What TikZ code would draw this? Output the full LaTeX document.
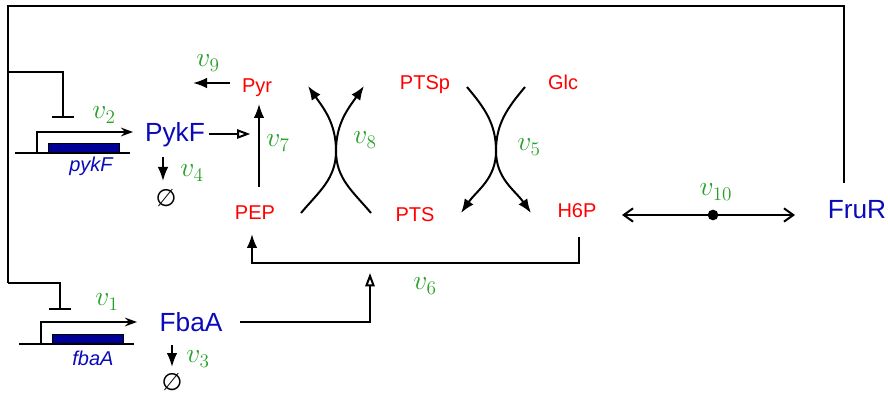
\documentclass[tikz,border=0pt]{standalone}
\usepackage{fontspec}
\setsansfont{Liberation Sans}
\newfontfamily\symfont{DejaVu Sans}
\usetikzlibrary{arrows.meta}
\definecolor{metred}{RGB}{255,0,0}
\definecolor{protblue}{RGB}{10,10,185}
\definecolor{geneblue}{RGB}{0,0,150}
\definecolor{rategreen}{RGB}{40,160,40}
\tikzset{
  met/.style={text=metred, font=\fontsize{15}{18}\sffamily, inner sep=0pt, anchor=base},
  prot/.style={text=protblue, font=\fontsize{19.7}{23}\sffamily, inner sep=0pt, anchor=base},
  rate/.style={text=rategreen, font=\fontsize{20.5}{24}\selectfont, inner sep=0pt},
  genelbl/.style={text=protblue, font=\fontsize{15}{18}\sffamily\itshape, inner sep=0pt, anchor=base},
  genebox/.style={draw=black, fill=geneblue, line width=1.1pt, inner sep=0pt},
  sink/.style={font=\fontsize{18}{21}\symfont, inner sep=0pt},
  ln/.style={line width=1.5pt, black},
  flow/.style={ln, -{Latex[length=10.5pt,width=8pt]}},
  modif/.style={ln, -{Triangle[open,length=10pt,width=7pt]}},
  prom/.style={ln, -{Stealth[open,length=9pt,width=6.5pt,inset=3pt]}},
  inh/.style={ln, -{Bar[width=16pt]}},
  barb/.style={ln, {Straight Barb[length=7pt,width=10pt]}-{Straight Barb[length=7pt,width=10pt]}},
}
\begin{document}
\begin{tikzpicture}[x=0.75pt,y=-0.75pt]
\useasboundingbox (0,0) rectangle (888,395);

% metabolites
\node[met] (Pyr) at (257,93) {Pyr};
\node[met] (PEP) at (255,220) {PEP};
\node[met] (PTSp) at (425,90) {PTSp};
\node[met] (Glc) at (563,90) {Glc};
\node[met] (PTS) at (415,222) {PTS};
\node[met] (H6P) at (577,218) {H6P};

% proteins
\node[prot] (PykF) at (175,142) {PykF};
\node[prot] (FbaA) at (191,331) {FbaA};
\node[prot] (FruR) at (857,219) {FruR};

% genes
\node[genebox, minimum width=53.25pt, minimum height=6.5pt, anchor=south west] (pykFgene) at (48,153) {};
\node[genebox, minimum width=53.25pt, minimum height=6.5pt, anchor=south west] (fbaAgene) at (52,344) {};
\node[genelbl] (pykFlbl) at (91,172) {pykF};
\node[genelbl] (fbaAlbl) at (93,365) {fbaA};
\draw[ln] (15,153) -- (130,153);
\draw[ln] (19,344) -- (134,344);
\coordinate (pykFtss) at (37,153);
\coordinate (pykFtip) at (133,132);
\coordinate (fbaAtss) at (41,344);
\coordinate (fbaAtip) at (137,322);
\draw[prom] (pykFtss) |- (pykFtip);
\draw[prom] (fbaAtss) |- (fbaAtip);

% rate labels
\node[rate] (v1) at (107,302) {$v_1$};
\node[rate] (v2) at (104,115) {$v_2$};
\node[rate] (v3) at (198,359) {$v_3$};
\node[rate] (v4) at (192,173) {$v_4$};
\node[rate] (v5) at (529,147) {$v_5$};
\node[rate] (v6) at (425,286) {$v_6$};
\node[rate] (v7) at (278,143) {$v_7$};
\node[rate] (v8) at (365,140) {$v_8$};
\node[rate] (v9) at (208,63) {$v_9$};
\node[rate] (v10) at (716,192) {$v_{10}$};

% sinks
\node[sink] (sink4) at (166,198) {∅};
\node[sink] (sink3) at (172,382) {∅};

% degradation
\coordinate (d4s) at (163,157);
\coordinate (d4e) at (163,181);
\coordinate (d3s) at (172,345);
\coordinate (d3e) at (172,367);
\draw[flow] (d4s) -- (d4e);
\draw[flow] (d3s) -- (d3e);

% v9
\coordinate (v9end) at (193,83);
\draw[flow, shorten <=9pt] (Pyr.west |- v9end) -- (v9end);

% v7
\coordinate (v7s) at (259,187);
\coordinate (v7e) at (259,104);
\draw[flow] (v7s) -- (v7e);
\coordinate (v7c) at (259,134);
\draw[modif, shorten <=3pt, shorten >=6.5pt] (PykF.east |- v7c) -- (v7c);

% v8 crossing
\coordinate (v8a) at (301,213);
\coordinate (v8b) at (308,86);
\coordinate (v8c) at (371,213);
\coordinate (v8d) at (364,86);
\coordinate (v8x) at (336,151);
\draw[flow] (v8a) to[out=50,in=-90] (v8x) to[out=90,in=-55] (v8b);
\draw[flow] (v8c) to[out=130,in=-90] (v8x) to[out=90,in=-125] (v8d);

% v5 crossing
\coordinate (v5a) at (467,87);
\coordinate (v5b) at (461,213);
\coordinate (v5c) at (525,87);
\coordinate (v5d) at (531,213);
\coordinate (v5x) at (496,151);
\draw[flow] (v5a) to[out=-50,in=90] (v5x) to[out=-90,in=55] (v5b);
\draw[flow] (v5c) to[out=-130,in=90] (v5x) to[out=-90,in=125] (v5d);

% v6
\coordinate (v6s) at (579,237);
\coordinate (v6line) at (415,263);
\coordinate (v6e) at (252,234);
\coordinate (v6c) at (370,263);
\draw[flow] (v6s) |- (v6line) -| (v6e);
\draw[modif, shorten <=13pt, shorten >=7.5pt] (FbaA.east) -| (v6c);

% v10
\node[circle, fill=black, inner sep=0pt, minimum size=8pt] (dot) at (713,215) {};
\coordinate (v10L) at (622,215);
\coordinate (v10R) at (795,215);
\draw[barb] (v10L) -- (v10R);

% feedback
\coordinate (frtop) at (844,183);
\coordinate (tr) at (844,6);
\coordinate (tl) at (8,6);
\coordinate (bl) at (8,283);
\coordinate (br) at (8,72);
\coordinate (fbaArep) at (60,310);
\coordinate (pykFrep) at (63,118);
\draw[ln] (frtop) -- (tr) -- (tl) -- (bl);
\draw[inh] (bl) -| (fbaArep);
\draw[inh] (br) -| (pykFrep);
\end{tikzpicture}
\end{document}
